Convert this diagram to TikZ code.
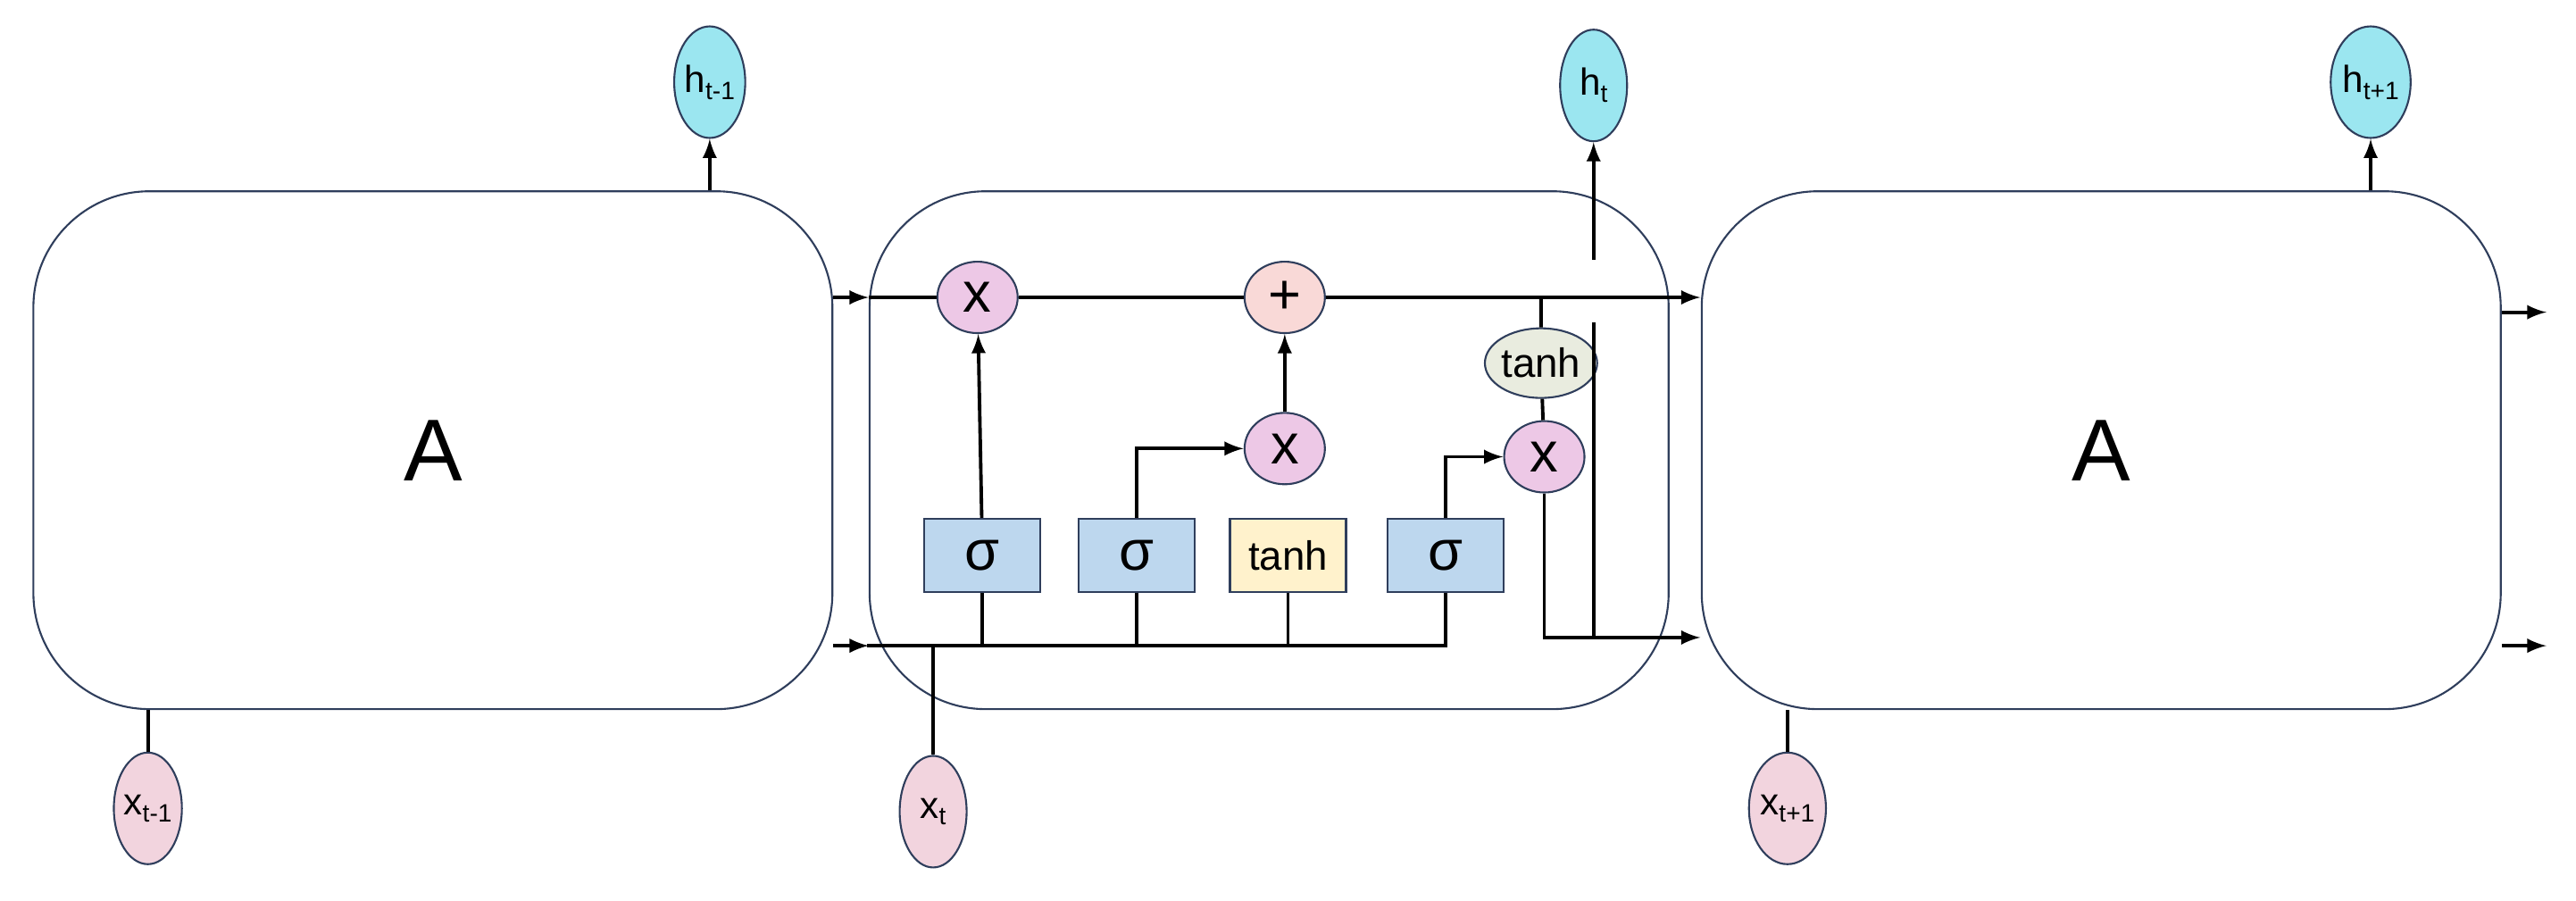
\documentclass[tikz,border=0pt]{standalone}
\usepackage{fontspec}
\setmainfont{Liberation Sans}
\usetikzlibrary{arrows,shapes.geometric}
\definecolor{outcol}{HTML}{9BE6F0}
\definecolor{incol}{HTML}{F2D4DE}
\definecolor{mulcol}{HTML}{EDC8E6}
\definecolor{addcol}{HTML}{F9D9D7}
\definecolor{gatecol}{HTML}{BDD7EE}
\definecolor{tanhcol}{HTML}{FFF2CC}
\definecolor{actcol}{HTML}{E9ECDF}
\definecolor{edgecol}{HTML}{2F3E5C}
\newcommand{\sub}[1]{\raisebox{-0.35ex}{\fontsize{8}{8}\selectfont #1}}
\begin{document}
\begin{tikzpicture}[x=0.0184cm,y=-0.0184cm,line width=1.1pt,
    cell/.style={draw=edgecol,line width=0.6pt,rounded corners=1.3cm,minimum width=8.95cm,minimum height=5.8cm},
    io/.style={ellipse,draw=edgecol,line width=0.6pt,minimum width=0.75cm,minimum height=1.25cm,inner sep=0pt,font=\fontsize{12}{12}\selectfont},
    op/.style={ellipse,draw=edgecol,line width=0.6pt,fill=mulcol,minimum width=0.9cm,minimum height=0.8cm,inner sep=0pt,font=\fontsize{18}{18}\selectfont},
    gate/.style={draw=edgecol,line width=0.6pt,fill=gatecol,minimum width=1.3cm,minimum height=0.82cm,font=\fontsize{18}{18}\selectfont}]
  \useasboundingbox (0,0) rectangle (1568,548);
  % three cells
  \node[cell] (A1) at (263.5,274) {};
  \node[cell] (A2) at (772.5,274) {};
  \node[cell] (A3) at (1279,274) {};
  \node[font=\fontsize{28}{28}\selectfont] at (A1) {A};
  \node[font=\fontsize{28}{28}\selectfont] at (A3) {A};
  % inputs and outputs
  \node[io,fill=outcol] (h1) at (432,50) {h\sub{t-1}};
  \node[io,fill=outcol] (h2) at (970,52) {h\sub{t}};
  \node[io,fill=outcol] (h3) at (1443,50) {h\sub{t+1}};
  \node[io,fill=incol] (x1) at (90,492) {x\sub{t-1}};
  \node[io,fill=incol] (x2) at (568,494) {x\sub{t}};
  \node[io,fill=incol] (x3) at (1088,492) {x\sub{t+1}};
  % inner operations
  \node[op] (m1) at (595,181) {x};
  \node[op,fill=addcol] (add) at (782,181) {+};
  \node[op] (m2) at (782,273) {x};
  \node[op] (m3) at (940,278) {x};
  \node[op,fill=actcol,minimum width=1.1cm,minimum height=0.78cm,font=\fontsize{13}{13}\selectfont] (act) at (938,221) {tanh};
  \node[gate] (g1) at (598,338) {σ};
  \node[gate] (g2) at (692,338) {σ};
  \node[gate,fill=tanhcol,font=\fontsize{13}{13}\selectfont] (g3) at (784,338) {tanh};
  \node[gate] (g4) at (880,338) {σ};
  \coordinate (c1) at (507,181);
  \coordinate (c2) at (507,393);
  \coordinate (b0) at (528,393);
  \coordinate (b4) at (880,393);
  \coordinate (o1) at (940,388);
  \coordinate (o2) at (1035,388);
  \coordinate (v1) at (970,388);
  \coordinate (v2) at (970,196);
  \coordinate (v3) at (970,158);
  \coordinate (t1) at (938,181);
  \coordinate (e1) at (1035,181);
  \coordinate (r1) at (1550,190);
  \coordinate (r2) at (1550,393);
  % connectors
  \draw[-latex] (A1.north -| h1) -- (h1);
  \draw[-latex] (A3.north -| h3) -- (h3);
  \draw (x1) -- (x1 |- A1.south);
  \draw (x3) -- (x3 |- A3.south);
  \draw[-latex] (c1) -- (c1 -| A2.west);
  \draw[-latex] (c2) -- (c2 -| A2.west);
  \draw (c1 -| A2.west) -- (m1) -- (add);
  \draw[-latex] (add) -- (e1);
  \draw (b0) -- (b4) -- (g4);
  \draw (x2) -- (x2 |- b0);
  \foreach \g in {g1,g2,g3} \draw (\g) -- (\g |- b0);
  \draw[-latex] (g1) -- (m1);
  \draw[-latex] (g2.north) |- (m2);
  \draw[-latex] (m2) -- (add);
  \draw[-latex] (g4.north) |- (m3);
  \draw (t1) -- (act) -- (m3);
  \draw[-latex] (m3) |- (o2);
  \draw (v1) -- (v2);
  \draw[-latex] (v3) -- (h2);
  \draw[-latex] (A3.east |- r1) -- (r1);
  \draw[-latex] (A3.east |- r2) -- (r2);
\end{tikzpicture}
\end{document}
